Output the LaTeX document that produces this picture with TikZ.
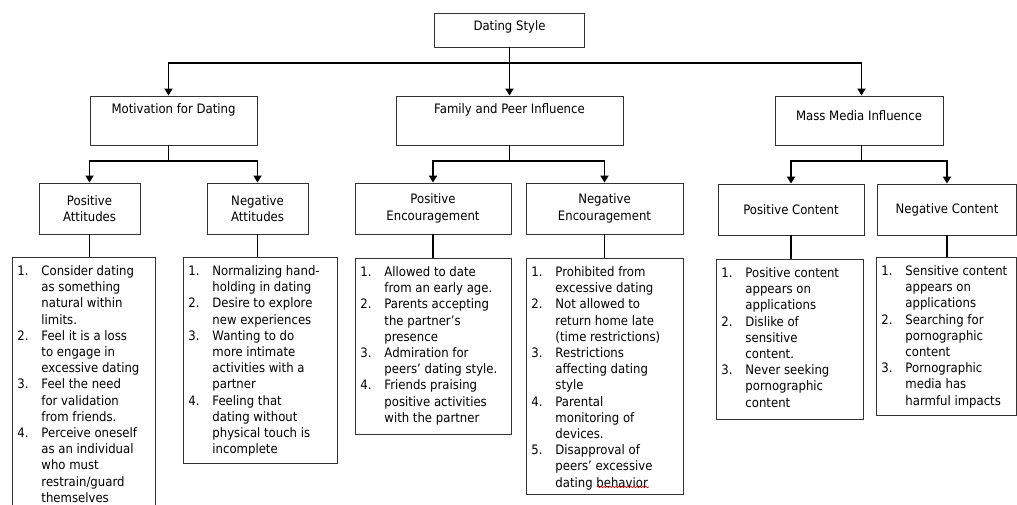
\documentclass[tikz,border=0pt]{standalone}
\usepackage{fontspec}
\setmainfont{DejaVu Sans}[FakeStretch=0.9]
\usepackage{array}
\usetikzlibrary{arrows.meta,calc,decorations.pathmorphing}

\newcommand{\listtext}[2]{\makebox[#1][l]{\begin{tabular}[t]{@{}p{24pt}@{}l@{}}#2\end{tabular}}}

\tikzset{
  box/.style={draw=black!80, line width=0.9pt, inner sep=0pt, align=center},
  listbox/.style={draw=black!80, line width=0.9pt, anchor=north west, inner xsep=5pt, inner ysep=0pt, text height=18pt},
  link/.style={line width=1.8pt},
  arr/.style={link, -{Triangle[width=8pt,length=7pt]}}
}

\begin{document}
\begin{tikzpicture}[x=1pt, y=-1pt, font=\fontsize{13}{16.2}\selectfont]
  \useasboundingbox (0,0) rectangle (1017,504);
  % Define nodes
  \node[box, minimum width=150pt, text height=17.5pt, text depth=16.5pt] (top) at (509.5,30) {Dating Style};
  \node[box, minimum width=167pt, text height=17.5pt, text depth=31.5pt] (mot) at (173.5,120.5) {Motivation for Dating};
  \node[box, minimum width=227pt, text height=17.5pt, text depth=31.5pt] (fam) at (509.5,120.5) {Family and Peer Influence};
  \node[box, minimum width=168pt, text height=24.5pt, text depth=24.5pt] (mass) at (859,120.5) {Mass Media Influence};
  \node[box, minimum width=101pt, minimum height=51pt] (pa) at (89.5,208.5) {Positive\\Attitudes};
  \node[box, minimum width=101pt, minimum height=51pt] (na) at (257.5,208.5) {Negative\\Attitudes};
  \node[box, minimum width=156pt, minimum height=51pt] (pe) at (433,208.5) {Positive\\Encouragement};
  \node[box, minimum width=157pt, minimum height=51pt] (ne) at (604.5,208.5) {Negative\\Encouragement};
  \node[box, minimum width=146pt, minimum height=51pt] (pc) at (791,209.5) {Positive Content};
  \node[box, minimum width=139pt, minimum height=51pt] (nc) at (947,209.5) {Negative Content};
  % Lists
  \node[listbox, draw=none, text depth=230pt] (l1) at (12,257) {\listtext{133pt}{
    1. & Consider dating\\ & as something\\ & natural within\\ & limits.\\
    2. & Feel it is a loss\\ & to engage in\\ & excessive dating\\
    3. & Feel the need\\ & for validation\\ & from friends.\\
    4. & Perceive oneself\\ & as an individual\\ & who must\\ & restrain/guard\\ & themselves}};
  \node[listbox, text depth=188pt] (l2) at (183,257) {\listtext{144pt}{
    1. & Normalizing hand-\\ & holding in dating\\
    2. & Desire to explore\\ & new experiences\\
    3. & Wanting to do\\ & more intimate\\ & activities with a\\ & partner\\
    4. & Feeling that\\ & dating without\\ & physical touch is\\ & incomplete}};
  \node[listbox, text depth=158pt] (l3) at (355,258) {\listtext{146pt}{
    1. & Allowed to date\\ & from an early age.\\
    2. & Parents accepting\\ & the partner's\\ & presence\\
    3. & Admiration for\\ & peers' dating style.\\
    4. & Friends praising\\ & positive activities\\ & with the partner}};
  \node[listbox, text depth=218pt] (l4) at (526,258) {\listtext{147pt}{
    1. & Prohibited from\\ & excessive dating\\
    2. & Not allowed to\\ & return home late\\ & (time restrictions)\\
    3. & Restrictions\\ & affecting dating\\ & style\\
    4. & Parental\\ & monitoring of\\ & devices.\\
    5. & Disapproval of\\ & peers' excessive\\ & dating behavior}};
  \node[listbox, text depth=142pt] (l5) at (716,259) {\listtext{137pt}{
    1. & Positive content\\ & appears on\\ & applications\\
    2. & Dislike of\\ & sensitive\\ & content.\\
    3. & Never seeking\\ & pornographic\\ & content}};
  \node[listbox, text depth=140pt] (l6) at (876,257) {\listtext{130pt}{
    1. & Sensitive content\\ & appears on\\ & applications\\
    2. & Searching for\\ & pornographic\\ & content\\
    3. & Pornographic\\ & media has\\ & harmful impacts}};
  \draw[draw=black!80, line width=0.9pt] (l1.south west) -- (l1.north west) -- (l1.north east) -- (l1.south east);
  \draw[red!85!black, line width=0.6pt, decorate, decoration={snake, amplitude=0.7pt, segment length=3pt}]
    ($(l4.north west)+(71,229)$) -- ++(52,0);
  % Connect nodes
  \coordinate (j0) at (509.5,63);
  \coordinate (jm) at (168.5,161);
  \coordinate (jf) at (509.5,161);
  \coordinate (jmm) at (861.5,161);
  \draw[link] (top) -- (j0);
  \draw[arr] (j0) -| (jm |- mot.north);
  \draw[arr] (j0) -- (fam);
  \draw[arr] (j0) -| (jmm |- mass.north);
  \draw[link] (jm |- mot.south) -- (jm);
  \draw[arr] (jm) -| (pa);
  \draw[arr] (jm) -| (na);
  \draw[link] (fam) -- (jf);
  \draw[arr] (jf) -| (pe);
  \draw[arr] (jf) -| (ne);
  \draw[link] (jmm |- mass.south) -- (jmm);
  \draw[arr] (jmm) -| (pc);
  \draw[arr] (jmm) -| (nc);
  \draw[link] (pa.south) -- (pa.south |- l1.north);
  \draw[link] (na.south) -- (na.south |- l2.north);
  \draw[link] (pe.south) -- (pe.south |- l3.north);
  \draw[link] (ne.south) -- (ne.south |- l4.north);
  \draw[link] (pc.south) -- (pc.south |- l5.north);
  \draw[link] (nc.south) -- (nc.south |- l6.north);
\end{tikzpicture}
\end{document}
